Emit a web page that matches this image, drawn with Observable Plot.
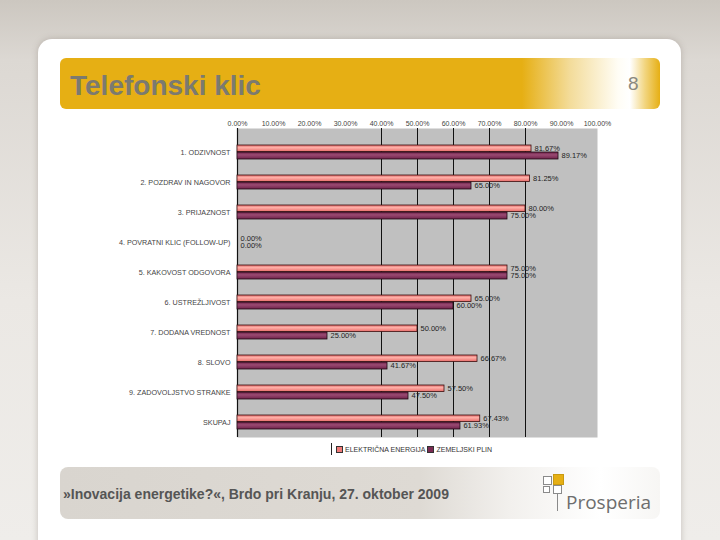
<!DOCTYPE html>
<html>
<head>
<meta charset="utf-8">
<script src="https://cdn.jsdelivr.net/npm/d3@7"></script>
<script src="https://cdn.jsdelivr.net/npm/@observablehq/plot@0.6"></script>
<style>
  html, body { margin: 0; padding: 0; }
  body { width: 720px; height: 540px; overflow: hidden; position: relative;
         background: linear-gradient(#ccc7c0 0px, #dcd8d3 60px, #ebe8e4 300px, #efedea 540px);
         font-family: Arial, "Liberation Sans", sans-serif; }
  #card { position: absolute; left: 38px; top: 39px; width: 643px; height: 520px; background: #fff;
          border-radius: 14px; box-shadow: 0 0 6px rgba(120,110,100,0.35); }
  #titlebar { position: absolute; left: 60px; top: 58px; width: 600px; height: 51px; border-radius: 6px;
          background: linear-gradient(90deg, #e6af14 0%, #e6af14 77%, #f3dc9a 85%, #fffdf5 93%, #ffffff 95%, #f2d57f 97.5%, #e6af14 100%); }
  #title { position: absolute; left: 70px; top: 70px; font-size: 28px; font-weight: bold; color: #7b7a70; }
  #pagenum { position: absolute; left: 628px; top: 73px; font-size: 19px; color: #8a897f; }
  #footer { position: absolute; left: 60px; top: 467px; width: 600px; height: 52px; border-radius: 8px;
          background: linear-gradient(90deg, #d9d5cf 0%, #dedad4 60%, #f2f0ed 75%, #ffffff 90%, #f7f6f4 100%); }
  #foottext { position: absolute; left: 63px; top: 486px; font-size: 14px; font-weight: bold; color: #555; }
  #logo { position: absolute; left: 566px; top: 489px; font-size: 19px; color: #6d6d6d; font-family: "Open Sans", Arial, sans-serif; }
  .sq { position: absolute; width: 7px; height: 7px; border: 1px solid #8a8a8a; background: #fff; }
  #legend { position: absolute; left: 331px; top: 443px; height: 12px; border-left: 1px solid #222;
            font-size: 7px; color: #333; display: flex; align-items: center; padding-left: 4px; white-space: nowrap; }
  .lk { display: inline-block; width: 5px; height: 5px; margin-right: 2px; border: 0.5px solid #333; }
  #chart { position: absolute; left: 0; top: 0; }
</style>
</head>
<body>
<div id="card"></div>
<div id="titlebar"></div>
<div id="title">Telefonski klic</div>
<div id="pagenum">8</div>
<div id="footer"></div>
<div id="foottext">»Inovacija energetike?«, Brdo pri Kranju, 27. oktober 2009</div>
<div class="sq" style="left:543px;top:476px;"></div>
<div class="sq" style="left:553px;top:474px;width:9px;height:9px;background:#e6af14;border-color:#c99a10;"></div>
<div class="sq" style="left:543px;top:486px;width:5px;height:5px;"></div>
<div class="sq" style="left:553px;top:485px;"></div>
<div style="position:absolute;left:557px;top:494px;width:1px;height:17px;background:#8a8a8a;"></div>
<div id="logo">Prosperia</div>
<div id="chart"></div>
<div id="legend"><span class="lk" style="background:#f07a78"></span>ELEKTRIČNA ENERGIJA&nbsp;<span class="lk" style="background:#7a2a52"></span>ZEMELJSKI PLIN</div>
<script>
const categories = [
  "1. ODZIVNOST",
  "2. POZDRAV IN NAGOVOR",
  "3. PRIJAZNOST",
  "4. POVRATNI KLIC (FOLLOW-UP)",
  "5. KAKOVOST ODGOVORA",
  "6. USTREŽLJIVOST",
  "7. DODANA VREDNOST",
  "8. SLOVO",
  "9. ZADOVOLJSTVO STRANKE",
  "SKUPAJ"
];
const elektrika = [81.67, 81.25, 80.00, 0, 75.00, 65.00, 50.00, 66.67, 57.50, 67.43];
const plin = [89.17, 65.00, 75.00, 0, 75.00, 60.00, 25.00, 41.67, 47.50, 61.93];
const seriesNames = ["ELEKTRIČNA ENERGIJA", "ZEMELJSKI PLIN"];
const xTicks = [0, 0.1, 0.2, 0.3, 0.4, 0.5, 0.6, 0.7, 0.8, 0.9, 1.0];
const gridTicks = [0.4, 0.5, 0.6, 0.7, 0.8];

const rowsE = categories.map((c, i) => ({cat: c, v: elektrika[i] / 100}));
const rowsP = categories.map((c, i) => ({cat: c, v: plin[i] / 100}));
const fmt = v => (v * 100).toFixed(2) + "%";

const chart = Plot.plot({
  width: 720,
  height: 470,
  marginLeft: 237,
  marginRight: 123,
  marginTop: 128,
  marginBottom: 33,
  style: {fontFamily: "Arial, 'Liberation Sans', sans-serif", background: "transparent", overflow: "visible"},
  x: {domain: [0, 1], ticks: xTicks, tickFormat: fmt, axis: "top", tickSize: 0, tickPadding: 3, label: null},
  y: {type: "band", domain: categories, range: [137, 437], paddingInner: 0, paddingOuter: 0, tickSize: 0, tickPadding: 7, label: null},
  marks: [
    Plot.frame({fill: "#c0c0c0", stroke: "none"}),
    Plot.ruleX(gridTicks, {stroke: "#111", strokeWidth: 1}),
    Plot.ruleX([0], {stroke: "#111", strokeWidth: 1.2}),
    Plot.barX(rowsE, {x: "v", y: "cat", fill: "url(#gradE)", stroke: "#3a1010", strokeWidth: 0.8, insetTop: 8, insetBottom: 15.5}),
    Plot.barX(rowsP, {x: "v", y: "cat", fill: "url(#gradP)", stroke: "#1e0a14", strokeWidth: 0.8, insetTop: 15, insetBottom: 8}),
    Plot.text(rowsE, {x: "v", y: "cat", text: d => fmt(d.v), dx: 3, dy: -4, textAnchor: "start", fontSize: 7.5, fill: "#222"}),
    Plot.text(rowsP, {x: "v", y: "cat", text: d => fmt(d.v), dx: 3, dy: 3.5, textAnchor: "start", fontSize: 7.5, fill: "#222"})
  ]
});

const ns = "http://www.w3.org/2000/svg";
const defs = document.createElementNS(ns, "defs");
function grad(id, stops) {
  const g = document.createElementNS(ns, "linearGradient");
  g.setAttribute("id", id);
  g.setAttribute("x1", "0"); g.setAttribute("y1", "0");
  g.setAttribute("x2", "0"); g.setAttribute("y2", "1");
  stops.forEach(([o, c]) => {
    const s = document.createElementNS(ns, "stop");
    s.setAttribute("offset", o);
    s.setAttribute("stop-color", c);
    g.appendChild(s);
  });
  defs.appendChild(g);
}
grad("gradE", [["0", "#e06868"], ["0.4", "#ffb0a8"], ["1", "#e86a68"]]);
grad("gradP", [["0", "#6a2046"], ["0.4", "#9a4a72"], ["1", "#6e224a"]]);
chart.insertBefore(defs, chart.firstChild);

chart.querySelectorAll("[aria-label='y-axis tick label']").forEach(n => {
  n.setAttribute("font-size", "7.2");
  n.setAttribute("fill", "#444");
});
chart.querySelectorAll("[aria-label='x-axis tick label']").forEach(n => {
  n.setAttribute("font-size", "7");
  n.setAttribute("fill", "#444");
});
document.getElementById("chart").appendChild(chart);
</script>
</body>
</html>
